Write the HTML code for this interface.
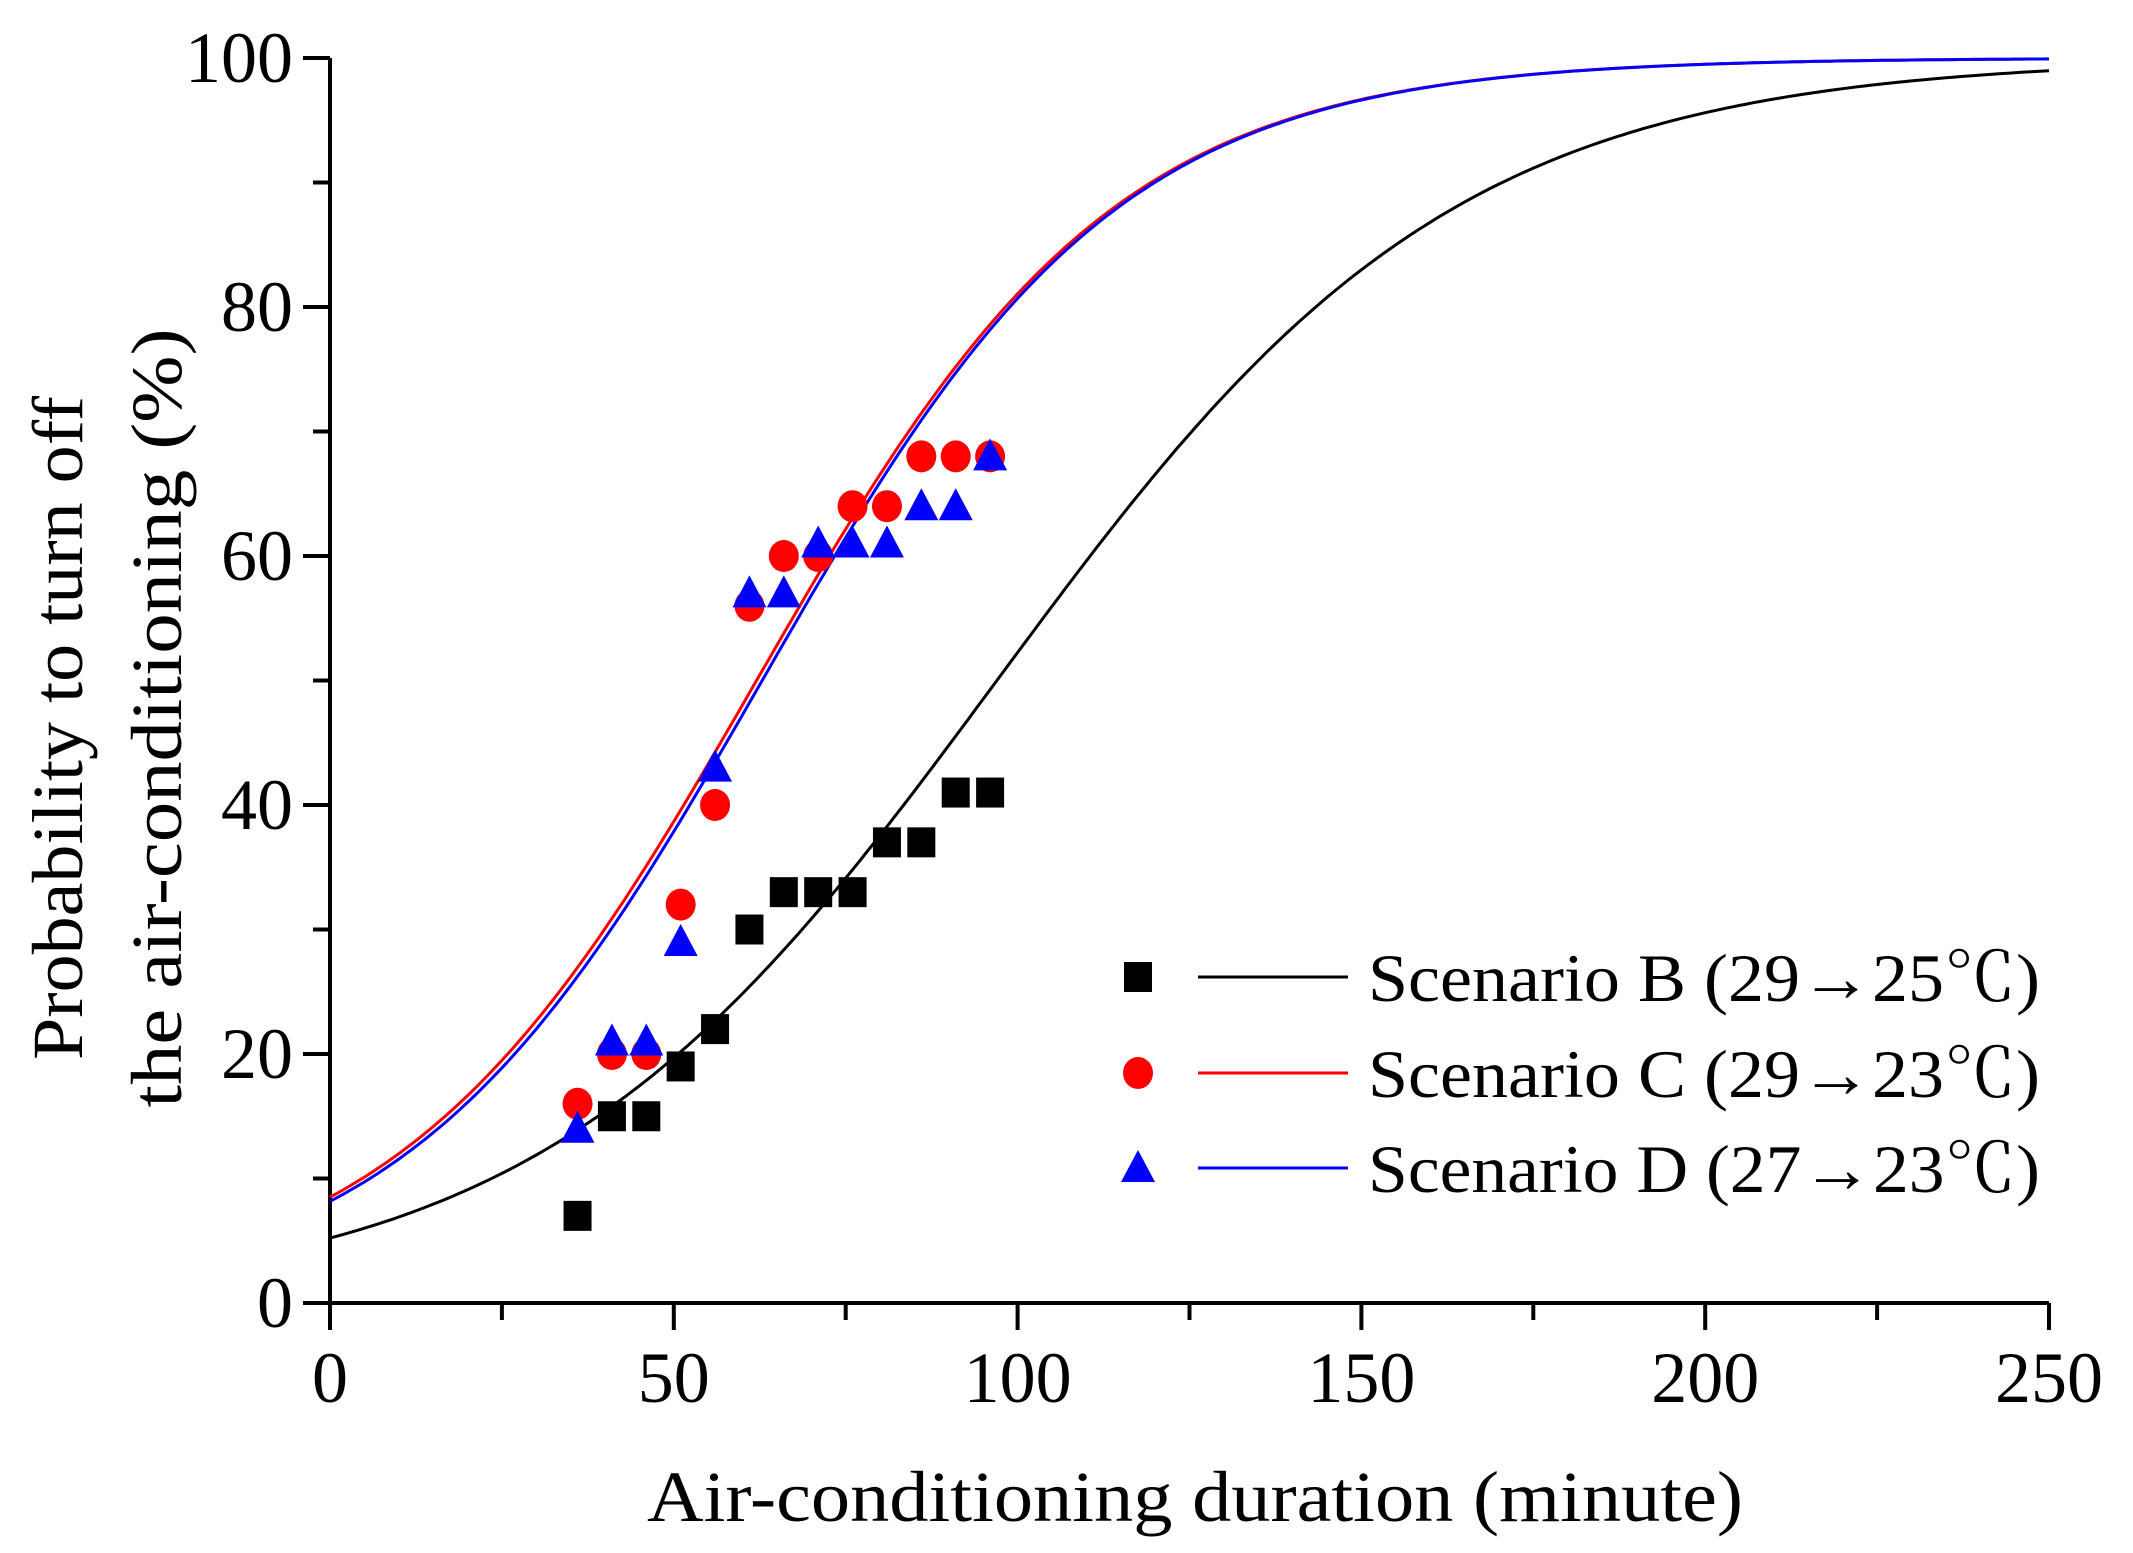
<!DOCTYPE html>
<html><head><meta charset="utf-8"><style>
html,body{margin:0;padding:0;background:#fff;}
svg{display:block;font-family:"Liberation Serif","Noto Serif CJK SC",serif;}
</style></head><body>
<svg id="chart" width="2133" height="1553" viewBox="0 0 2133 1553" xmlns="http://www.w3.org/2000/svg">
<g id="axes"></g>
<g id="curves"></g>
<g id="points"></g>
<g id="legend"></g>
<text x="1195" y="1521" font-size="72" text-anchor="middle" textLength="1096" lengthAdjust="spacingAndGlyphs">Air-conditioning duration (minute)</text>
<text transform="translate(82,728) rotate(-90)" font-size="72" text-anchor="middle" textLength="664" lengthAdjust="spacingAndGlyphs">Probability to turn off</text>
<text transform="translate(181,718) rotate(-90)" font-size="72" text-anchor="middle" textLength="779" lengthAdjust="spacingAndGlyphs">the air-conditioning  (%)</text>
</svg>
<script>
const xTicks=[0,50,100,150,200,250];
const yTicks=[0,20,40,60,80,100];
const xs=[36,41,46,51,56,61,66,71,76,81,86,91,96];
const seriesB=[7,15,15,19,22,30,33,33,33,37,37,41,41];
const seriesC=[16,20,20,32,40,56,60,60,64,64,68,68,68];
const seriesD=[14,21,21,29,43,57,57,61,61,61,64,64,68];
const fitIntercepts=[-2.90,-2.376,-2.42];
const fitSlopes=[0.0299,0.0383,0.0385];
const legendLabels=["Scenario B (29\u219225\u2103)","Scenario C (29\u219223\u2103)","Scenario D (27\u219223\u2103)"];
const colors=["#000","#ff0000","#0000ff"];

const X0=330,X1=2049,Y0=1303,Y1=58;
const sx=v=>X0+(v-0)/(250-0)*(X1-X0);
const sy=v=>Y0-(v-0)/(100-0)*(Y0-Y1);
const NS="http://www.w3.org/2000/svg";
function mk(tag,attrs,parent){const e=document.createElementNS(NS,tag);for(const k in attrs)e.setAttribute(k,attrs[k]);parent.appendChild(e);return e;}

const axes=document.getElementById('axes');
let a=mk('line',{x1:X0,y1:Y0,x2:X1,y2:Y0,stroke:'#000','stroke-width':4},axes);


a=mk('line',{x1:X0,y1:Y0,x2:X0,y2:Y1,stroke:'#000','stroke-width':4},axes);


for(let v=0;v<=250;v+=25){
  const major=v%50===0;
  const t=mk('line',{x1:sx(v),y1:Y0,x2:sx(v),y2:Y0+(major?27:17),stroke:'#000','stroke-width':4},axes);
  
  
}
for(let v=0;v<=100;v+=10){
  const major=v%20===0;
  const t=mk('line',{x1:X0,y1:sy(v),x2:X0-(major?27:17),y2:sy(v),stroke:'#000','stroke-width':4},axes);
  
  
}
xTicks.forEach(v=>{
  const t=mk('text',{x:sx(v),y:Y0+99,'font-size':72,'text-anchor':'middle'},axes);
  t.textContent=v;
  
  
});
yTicks.forEach(v=>{
  const t=mk('text',{x:293,y:sy(v)+24,'font-size':72,'text-anchor':'end'},axes);
  t.textContent=v;
  
  
});

const curves=document.getElementById('curves');
const curveNames=['curve-b','curve-c','curve-d'];
for(let i=0;i<3;i++){
  let d='';
  for(let x=0;x<=250;x+=1){
    const p=100/(1+Math.exp(-(fitIntercepts[i]+fitSlopes[i]*x)));
    d+=(x===0?'M':'L')+sx(x).toFixed(1)+','+sy(p).toFixed(1);
  }
  const c=mk('path',{d:d,fill:'none',stroke:colors[i],'stroke-width':3},curves);
  
  
}

const pts=document.getElementById('points');
function square(cx,cy,p,col){return mk('rect',{x:cx-14,y:cy-15,width:28,height:30,fill:col},p);}
function circle(cx,cy,p,col){return mk('ellipse',{cx:cx,cy:cy,rx:15,ry:16,fill:col},p);}
function tri(cx,cy,p,col){return mk('polygon',{points:`${cx},${cy-18} ${cx+17},${cy+14} ${cx-17},${cy+14}`,fill:col},p);}
xs.forEach((x,i)=>{
  let m=square(sx(x),sy(seriesB[i]),pts,colors[0]);
  
  
});
xs.forEach((x,i)=>{
  let m=circle(sx(x),sy(seriesC[i]),pts,colors[1]);
  
  
});
xs.forEach((x,i)=>{
  let m=tri(sx(x),sy(seriesD[i]),pts,colors[2]);
  
  
});

const leg=document.getElementById('legend');
const ly=[977,1073,1168];
const markerFns=[square,circle,tri];
for(let i=0;i<3;i++){
  const g=mk('g',{},leg);
  
  
  markerFns[i](1138,ly[i],g,colors[i]);
  mk('line',{x1:1198,y1:ly[i],x2:1348,y2:ly[i],stroke:colors[i],'stroke-width':3},g);
  const t=mk('text',{x:1368,y:ly[i]+24,'font-size':68,textLength:672,lengthAdjust:'spacingAndGlyphs'},g);
  t.textContent=legendLabels[i];
}
</script>
</body></html>
